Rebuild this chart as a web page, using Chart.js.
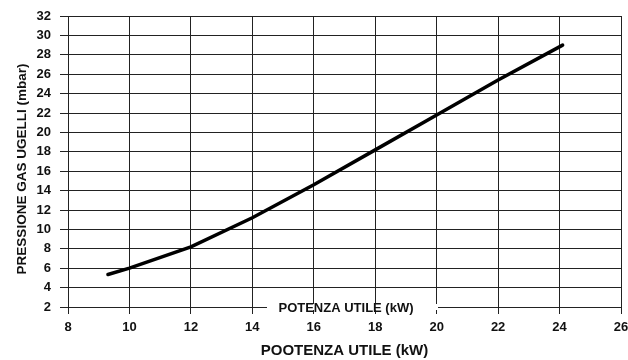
<!DOCTYPE html>
<html>
<head>
<meta charset="utf-8">
<script src="https://cdn.jsdelivr.net/npm/chart.js@4/dist/chart.umd.min.js"></script>
<style>
  html, body { margin: 0; padding: 0; background: #fff; }
  #wrap { width: 628px; height: 360px; position: relative; }
</style>
</head>
<body>
<div id="wrap"><canvas id="c" width="628" height="360"></canvas></div>
<script>
const powerKW = [9.3, 10, 12, 14, 16, 18, 20, 22, 24.1];
const pressureMbar = [5.35, 6.0, 8.2, 11.2, 14.6, 18.2, 21.8, 25.4, 29.0];
const xTitle = 'POOTENZA UTILE (kW)';
const yTitle = 'PRESSIONE GAS UGELLI (mbar)';
const innerLabel = 'POTENZA UTILE (kW)';
const xRange = [8, 26];
const yRange = [2, 32];

const points = powerKW.map((x, i) => ({ x: x, y: pressureMbar[i] }));
const FONT = '"Liberation Sans", Arial, sans-serif';

const textPlugin = {
  id: 'extraText',
  afterDraw(chart) {
    const { ctx, chartArea, scales } = chart;
    const yPix = scales.y.getPixelForValue(yRange[0]);
    ctx.save();
    ctx.fillStyle = '#fff';
    ctx.fillRect(267, yPix - 3, 171, 6);
    ctx.font = 'bold 13px ' + FONT;
    ctx.fillStyle = '#111';
    ctx.textAlign = 'center';
    ctx.textBaseline = 'middle';
    ctx.fillText(innerLabel, 346, yPix + 1);
    // y axis title
    ctx.translate(22, 169);
    ctx.rotate(-Math.PI / 2);
    ctx.font = 'bold 13.5px ' + FONT;
    ctx.fillText(yTitle, 0, 0);
    ctx.restore();
  }
};

new Chart(document.getElementById('c'), {
  type: 'scatter',
  data: {
    datasets: [{
      data: points,
      showLine: true,
      borderColor: '#000',
      borderWidth: 3.5,
      pointRadius: 0,
      tension: 0,
      borderCapStyle: 'round'
    }]
  },
  options: {
    responsive: false,
    animation: false,
    devicePixelRatio: 1,
    layout: { padding: { top: 16, right: 7, left: 0, bottom: 0 } },
    plugins: { legend: { display: false }, tooltip: { enabled: false } },
    scales: {
      x: {
        type: 'linear',
        min: xRange[0], max: xRange[1],
        ticks: { stepSize: 2, color: '#111', padding: 6, font: { family: FONT, size: 13, weight: 'bold' } },
        grid: { color: '#222', lineWidth: 1, tickLength: 7 },
        border: { color: '#222', width: 1 },
        title: { display: true, text: xTitle, color: '#111', font: { family: FONT, size: 15, weight: 'bold' }, padding: { top: 3, bottom: 0 } },
        afterFit(scale) { scale.height = 53; scale.paddingRight = 0; scale.paddingLeft = 0; }
      },
      y: {
        type: 'linear',
        min: yRange[0], max: yRange[1],
        ticks: { stepSize: 2, color: '#111', padding: 9, font: { family: FONT, size: 13, weight: 'bold' } },
        grid: { color: '#222', lineWidth: 1, tickLength: 8 },
        border: { color: '#222', width: 1 },
        title: { display: false },
        afterFit(scale) { scale.width = 68; scale.paddingTop = 0; scale.paddingBottom = 0; }
      }
    }
  },
  plugins: [textPlugin]
});
</script>
</body>
</html>
